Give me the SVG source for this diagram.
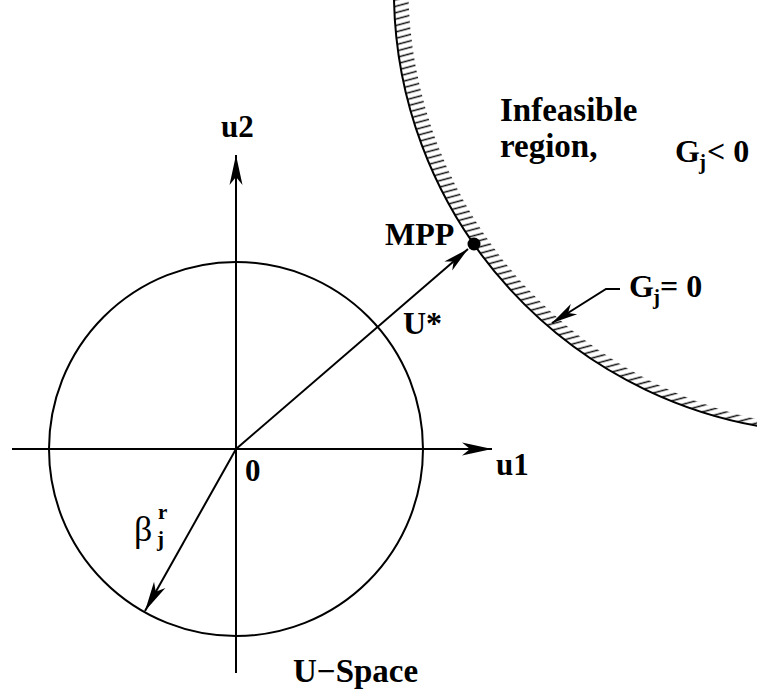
<svg xmlns="http://www.w3.org/2000/svg" width="757" height="693" viewBox="0 0 757 693">
<style>
.ln{fill:none;stroke:#000;stroke-width:2}
.t{font-family:"Liberation Serif","Times New Roman",serif;font-weight:bold;fill:#000}
.hatch{stroke:#111;stroke-width:1.5}
</style>
<defs>
<marker id="ah" viewBox="-32 -8 34 16" refX="0" refY="0" markerWidth="34" markerHeight="16" markerUnits="userSpaceOnUse" orient="auto">
<path d="M0,0 L-30,-6.5 L-22,0 L-30,6.5 Z" fill="#000"/>
</marker>
<marker id="ahs" viewBox="-28 -8 30 16" refX="0" refY="0" markerWidth="30" markerHeight="16" markerUnits="userSpaceOnUse" orient="auto">
<path d="M0,0 L-26,-6 L-19,0 L-26,6 Z" fill="#000"/>
</marker>
<pattern id="hp" patternUnits="userSpaceOnUse" width="20" height="6.2" patternTransform="rotate(-15)">
<line x1="-2" y1="3.1" x2="22" y2="3.1" class="hatch"/>
</pattern>
<clipPath id="band">
<path d="M393.9,-9.4 A442.3 442.3 0 0 0 797.6,431.2 L812.1,427.3 A442.3 442.3 0 0 1 408.4,-13.3 Z"/>
</clipPath>
</defs>

<g id="boundary">
<rect x="380" y="-20" width="440" height="470" fill="url(#hp)" clip-path="url(#band)"/>
<path class="ln" d="M393.9,-9.4 A442.3 442.3 0 0 0 797.6,431.2"/>
</g>

<g id="circle">
<circle cx="236" cy="449" r="187" class="ln" stroke-width="1.8"/>
</g>

<g id="axes">
<line x1="12" y1="449" x2="492" y2="449" class="ln" stroke-width="2.2" marker-end="url(#ah)"/>
<line x1="236" y1="673" x2="236" y2="155" class="ln" stroke-width="2.2" marker-end="url(#ah)"/>
</g>

<g id="connectors">
<line id="ustar-arrow" x1="236" y1="449" x2="468" y2="249" class="ln" marker-end="url(#ahs)"/>
<line id="beta-arrow" x1="236" y1="449" x2="145" y2="611" class="ln" marker-end="url(#ah)"/>
<polyline id="g0-leader" points="620,289 606,289 552,323" class="ln" marker-end="url(#ahs)"/>
</g>

<g id="mpp">
<circle cx="474" cy="244" r="6.5" fill="#000"/>
<text class="t" x="385" y="245" font-size="32">MPP</text>
</g>

<g id="labels">
<text class="t" x="221" y="137" font-size="31">u2</text>
<text class="t" x="496" y="475" font-size="31">u1</text>
<text class="t" x="245" y="481" font-size="31">0</text>
<text class="t" x="403" y="334" font-size="32">U*</text>
<text class="t" x="293" y="682" font-size="33">U−Space</text>
<text class="t" x="500" y="121" font-size="33">Infeasible</text>
<text class="t" x="500" y="157" font-size="33">region,</text>
<text class="t" x="675" y="162" font-size="32">G</text>
<text class="t" x="699" y="169" font-size="21">j</text>
<text class="t" x="707" y="162" font-size="32">&lt; 0</text>
<text class="t" x="629" y="297" font-size="32">G</text>
<text class="t" x="653" y="304" font-size="21">j</text>
<text class="t" x="660" y="297" font-size="32">= 0</text>
<text x="134" y="541" font-size="36" font-family="Liberation Serif, Times New Roman, serif" fill="#000">β</text>
<text class="t" x="158" y="519" font-size="21">r</text>
<text class="t" x="157" y="546" font-size="21">j</text>
</g>
</svg>
